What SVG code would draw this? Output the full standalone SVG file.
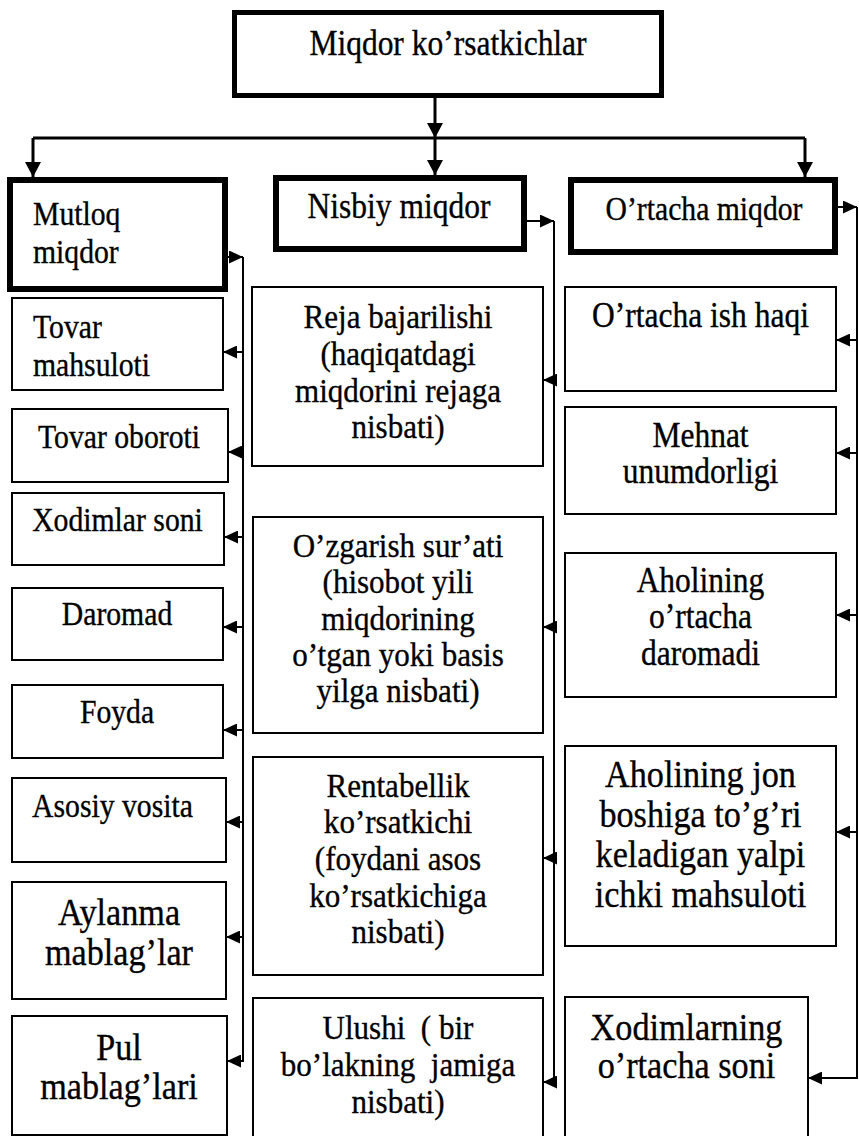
<svg xmlns="http://www.w3.org/2000/svg" width="859" height="1136" viewBox="0 0 859 1136">
  <style>
    .box { fill: #fff; stroke: #000; stroke-width: 2; }
    .main { fill: #fff; stroke: #000; stroke-width: 6; }
    .t { font-family: "Liberation Serif", "Times New Roman", serif; fill: #000; stroke: #000; stroke-width: 0.35; text-anchor: middle; white-space: pre; transform-box: fill-box; transform-origin: 50% 50%; transform: scaleX(0.9); }
    .l { text-anchor: start; transform-origin: 0% 50%; }
    .wire { fill: none; stroke: #000; stroke-width: 2; }
    .bus { fill: none; stroke: #000; stroke-width: 3; }
    .s33 { font-size: 33px; }
    .s35 { font-size: 35px; }
    .s38 { font-size: 38px; }
    .s345 { font-size: 34.5px; }
  </style>
  <defs>
    <marker id="ah" markerUnits="userSpaceOnUse" markerWidth="14" markerHeight="13" refX="14" refY="6.5" orient="auto">
      <path d="M0,0 L14,6.5 L0,13 z" fill="#000"/>
    </marker>
    <marker id="ahBig" markerUnits="userSpaceOnUse" markerWidth="15" markerHeight="16" refX="15" refY="8" orient="auto">
      <path d="M0,0 L15,8 L0,16 z" fill="#000"/>
    </marker>
  </defs>

  <rect width="859" height="1136" fill="#fff"/>

  <!-- connectors -->
  <g id="connectors">
    <path class="bus" d="M435,98 V138" marker-end="url(#ahBig)"/>
    <path class="bus" d="M33,138 H805"/>
    <path class="bus" d="M435,138 V175" marker-end="url(#ahBig)"/>
    <path class="bus" d="M33,138 V177" marker-end="url(#ahBig)"/>
    <path class="bus" d="M805,138 V177" marker-end="url(#ahBig)"/>

    <!-- absolute values column -->
    <path class="wire" d="M228,257 H243" marker-end="url(#ah)"/>
    <path class="wire" d="M243,257 V1062"/>
    <path class="wire" d="M243,352 H223" marker-end="url(#ah)"/>
    <path class="wire" d="M243,452 H228" marker-end="url(#ah)"/>
    <path class="wire" d="M243,537 H224" marker-end="url(#ah)"/>
    <path class="wire" d="M243,627 H223" marker-end="url(#ah)"/>
    <path class="wire" d="M243,730 H223" marker-end="url(#ah)"/>
    <path class="wire" d="M243,822 H226" marker-end="url(#ah)"/>
    <path class="wire" d="M243,937 H226" marker-end="url(#ah)"/>
    <path class="wire" d="M243,1061 H227" marker-end="url(#ah)"/>

    <!-- relative values column -->
    <path class="wire" d="M527,221 H554" marker-end="url(#ah)"/>
    <path class="wire" d="M554,221 V1083"/>
    <path class="wire" d="M554,380 H543" marker-end="url(#ah)"/>
    <path class="wire" d="M554,627 H543" marker-end="url(#ah)"/>
    <path class="wire" d="M554,858 H543" marker-end="url(#ah)"/>
    <path class="wire" d="M554,1082 H543" marker-end="url(#ah)"/>

    <!-- average values column -->
    <path class="wire" d="M838,207 H857" marker-end="url(#ah)"/>
    <path class="wire" d="M857,207 V1078 H808" marker-end="url(#ah)"/>
    <path class="wire" d="M857,340 H836" marker-end="url(#ah)"/>
    <path class="wire" d="M857,453 H836" marker-end="url(#ah)"/>
    <path class="wire" d="M857,615 H836" marker-end="url(#ah)"/>
    <path class="wire" d="M857,832 H836" marker-end="url(#ah)"/>
  </g>

  <!-- root -->
  <g id="root">
    <rect x="234.5" y="12.5" width="427" height="83" fill="#fff" stroke="#000" stroke-width="5"/>
    <text class="t s35" x="448" y="55">Miqdor ko’rsatkichlar</text>
  </g>

  <!-- category nodes -->
  <g id="mutloq">
    <rect class="main" x="10" y="180" width="215" height="109"/>
    <text class="t l s33" x="33" y="225">Mutloq</text>
    <text class="t l s33" x="33" y="263">miqdor</text>
  </g>
  <g id="nisbiy">
    <rect class="main" x="276" y="178" width="248" height="71"/>
    <text class="t s35" x="399" y="218">Nisbiy miqdor</text>
  </g>
  <g id="ortacha">
    <rect class="main" x="571" y="180" width="264" height="72"/>
    <text class="t s33" x="704" y="220">O’rtacha miqdor</text>
  </g>

  <!-- absolute values -->
  <g id="tovar-mahsuloti">
    <rect class="box" x="12" y="298" width="211" height="92"/>
    <text class="t l s33" x="33" y="338">Tovar</text>
    <text class="t l s33" x="33" y="376">mahsuloti</text>
  </g>
  <g id="tovar-oboroti">
    <rect class="box" x="12" y="409" width="216" height="73"/>
    <text class="t s33" x="119" y="448">Tovar oboroti</text>
  </g>
  <g id="xodimlar-soni">
    <rect class="box" x="12" y="493" width="212" height="72"/>
    <text class="t s33" x="117.5" y="531">Xodimlar soni</text>
  </g>
  <g id="daromad">
    <rect class="box" x="12" y="588" width="211" height="72"/>
    <text class="t s33" x="117" y="625">Daromad</text>
  </g>
  <g id="foyda">
    <rect class="box" x="12" y="685" width="211" height="73"/>
    <text class="t s33" x="117" y="723">Foyda</text>
  </g>
  <g id="asosiy-vosita">
    <rect class="box" x="12" y="778" width="214" height="84"/>
    <text class="t s33" x="112.5" y="817">Asosiy vosita</text>
  </g>
  <g id="aylanma">
    <rect class="box" x="12" y="882" width="214" height="117"/>
    <text class="t s38" x="119" y="925">Aylanma</text>
    <text class="t s38" x="119" y="965">mablag’lar</text>
  </g>
  <g id="pul">
    <rect class="box" x="12" y="1016" width="215" height="119"/>
    <text class="t s38" x="119" y="1060">Pul</text>
    <text class="t s38" x="119" y="1099">mablag’lari</text>
  </g>

  <!-- relative values -->
  <g id="reja">
    <rect class="box" x="252" y="287" width="291" height="179"/>
    <text class="t s345" x="398" y="328">Reja bajarilishi</text>
    <text class="t s345" x="398" y="365">(haqiqatdagi</text>
    <text class="t s345" x="398" y="402">miqdorini rejaga</text>
    <text class="t s345" x="398" y="438">nisbati)</text>
  </g>
  <g id="ozgarish">
    <rect class="box" x="253" y="517" width="290" height="216"/>
    <text class="t s345" x="398" y="557">O’zgarish sur’ati</text>
    <text class="t s345" x="398" y="593">(hisobot yili</text>
    <text class="t s345" x="398" y="630">miqdorining</text>
    <text class="t s345" x="398" y="666">o’tgan yoki basis</text>
    <text class="t s345" x="398" y="702">yilga nisbati)</text>
  </g>
  <g id="rentabellik">
    <rect class="box" x="253" y="757" width="290" height="218"/>
    <text class="t s345" x="398" y="797">Rentabellik</text>
    <text class="t s345" x="398" y="833">ko’rsatkichi</text>
    <text class="t s345" x="398" y="870">(foydani asos</text>
    <text class="t s345" x="398" y="907">ko’rsatkichiga</text>
    <text class="t s345" x="398" y="943">nisbati)</text>
  </g>
  <g id="ulushi">
    <rect class="box" x="253" y="998" width="290" height="150"/>
    <text class="t s345" x="398" y="1039">Ulushi  ( bir</text>
    <text class="t s345" x="398" y="1076">bo’lakning  jamiga</text>
    <text class="t s345" x="398" y="1113">nisbati)</text>
  </g>

  <!-- average values -->
  <g id="ish-haqi">
    <rect class="box" x="565" y="287" width="271" height="104"/>
    <text class="t s35" x="700.5" y="327">O’rtacha ish haqi</text>
  </g>
  <g id="mehnat">
    <rect class="box" x="565" y="407" width="271" height="107"/>
    <text class="t s35" x="700.5" y="447">Mehnat</text>
    <text class="t s35" x="700.5" y="483">unumdorligi</text>
  </g>
  <g id="daromadi">
    <rect class="box" x="565" y="553" width="271" height="144"/>
    <text class="t s35" x="700.5" y="592">Aholining</text>
    <text class="t s35" x="700.5" y="628">o’rtacha</text>
    <text class="t s35" x="700.5" y="665">daromadi</text>
  </g>
  <g id="yalpi-mahsulot">
    <rect class="box" x="565" y="746" width="271" height="200"/>
    <text class="t s38" x="700.5" y="787">Aholining jon</text>
    <text class="t s38" x="700.5" y="827">boshiga to’g’ri</text>
    <text class="t s38" x="700.5" y="867">keladigan yalpi</text>
    <text class="t s38" x="700.5" y="907">ichki mahsuloti</text>
  </g>
  <g id="xodimlar-ortacha">
    <rect class="box" x="565" y="997" width="243" height="150"/>
    <text class="t s38" x="686.5" y="1040">Xodimlarning</text>
    <text class="t s38" x="686.5" y="1078">o’rtacha soni</text>
  </g>
</svg>
